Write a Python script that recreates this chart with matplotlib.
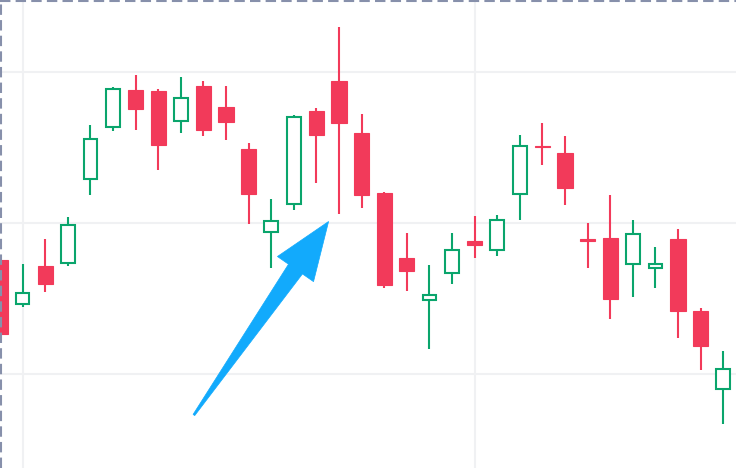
import matplotlib
matplotlib.use("Agg")
import matplotlib.pyplot as plt
import numpy as np
from matplotlib.patches import Rectangle, Polygon
from matplotlib.lines import Line2D

# ---- data ----
opens  = [97.55, 94.64, 97.15, 97.35, 102.91, 106.36, 108.81, 108.74, 106.75, 109.07,
          107.68, 104.90, 99.40, 101.26, 107.42, 109.40, 105.96, 101.99, 97.68, 94.90,
          96.69, 98.81, 98.21, 101.92, 105.10, 104.64, 98.91, 99.01, 97.28, 97.02,
          98.94, 94.17, 89.01]
highs  = [97.81, 97.28, 98.94, 100.40, 106.49, 109.01, 109.80, 108.87, 109.67, 109.40,
          109.07, 105.30, 101.59, 107.15, 107.62, 112.98, 107.22, 102.05, 99.34, 97.22,
          99.34, 100.46, 100.53, 105.83, 106.62, 105.76, 100.00, 101.85, 100.20, 98.41,
          99.60, 94.37, 91.52]
lows   = [92.25, 94.44, 95.43, 97.15, 101.85, 106.09, 106.16, 103.51, 105.96, 105.76,
          105.50, 99.93, 97.02, 100.86, 102.65, 100.60, 100.99, 95.70, 95.50, 91.66,
          95.96, 97.68, 97.81, 100.20, 103.84, 101.19, 97.02, 93.64, 95.10, 95.70,
          92.38, 90.26, 86.69]
closes = [92.65, 95.36, 95.96, 99.87, 105.56, 108.87, 107.55, 105.17, 108.28, 106.16,
          106.69, 101.92, 100.13, 107.02, 105.83, 106.62, 101.85, 95.89, 96.82, 95.23,
          98.21, 98.54, 100.20, 105.10, 105.00, 102.32, 98.81, 94.97, 99.27, 97.28,
          94.17, 91.85, 90.33]
grid_prices = [90, 100, 110]
grid_bars = [1, 21]
arrow_tail = (8.58, 87.28)   # (bar index, price)
arrow_tip = (14.54, 100.10)

UP = "#0aa56c"
DOWN = "#f23a5a"
ARROW = "#12aafc"

fig = plt.figure(figsize=(7.36, 4.68), dpi=100)
ax = fig.add_axes([0, 0, 1, 1])
ax.set_xlim(0, 736 / 22.6)
ax.set_ylim(83.77, 114.77)
ax.axis("off")

for g in grid_prices:
    ax.axhline(g, color="#f0f1f3", lw=1.5, zorder=0)
for g in grid_bars:
    ax.axvline(g, color="#f0f1f3", lw=1.5, zorder=0)

w_fill = 0.67
w_hollow = 0.6
for i, (o, h, l, c) in enumerate(zip(opens, highs, lows, closes)):
    up = c >= o
    col = UP if up else DOWN
    top, bot = max(o, c), min(o, c)
    ax.plot([i, i], [top, h], color=col, lw=1.5, solid_capstyle="butt", zorder=2)
    ax.plot([i, i], [l, bot], color=col, lw=1.5, solid_capstyle="butt", zorder=2)
    hgt = max(top - bot, 0.08)
    if up:
        ax.add_patch(Rectangle((i - w_hollow / 2, bot), w_hollow, hgt,
                               facecolor="white", edgecolor=col, lw=1.5, zorder=3))
    else:
        ax.add_patch(Rectangle((i - w_fill / 2, bot), w_fill, hgt,
                               facecolor=col, edgecolor=col, lw=0.8, zorder=3))

# ---- tapered arrow, built in pixel space ----
fig.canvas.draw()
T = ax.transData
tail = T.transform(arrow_tail)
tip = T.transform(arrow_tip)
d = tip - tail
L = np.hypot(*d)
u = d / L
n = np.array([-u[1], u[0]])
head_len, head_hw, shaft_hw, tail_hw = 58, 22, 8.5, 1.0
base = tip - u * head_len
pts = [tail + n * tail_hw, base + n * shaft_hw, base + n * head_hw, tip,
       base - n * head_hw, base - n * shaft_hw, tail - n * tail_hw]
pts = T.inverted().transform(np.array(pts))
ax.add_patch(Polygon(pts, closed=True, facecolor=ARROW, edgecolor=ARROW, lw=0.5, zorder=5))

# ---- dashed top / left border ----
bc = "#8790ab"
fig.add_artist(Line2D([0, 1], [1 - 1 / 468, 1 - 1 / 468], transform=fig.transFigure,
                      color=bc, lw=1.5, linestyle=(0, (5, 2.5))))
fig.add_artist(Line2D([1 / 736, 1 / 736], [0, 1], transform=fig.transFigure,
                      color=bc, lw=1.5, linestyle=(0, (5, 2.5))))

fig.savefig("out.png", dpi=100)
